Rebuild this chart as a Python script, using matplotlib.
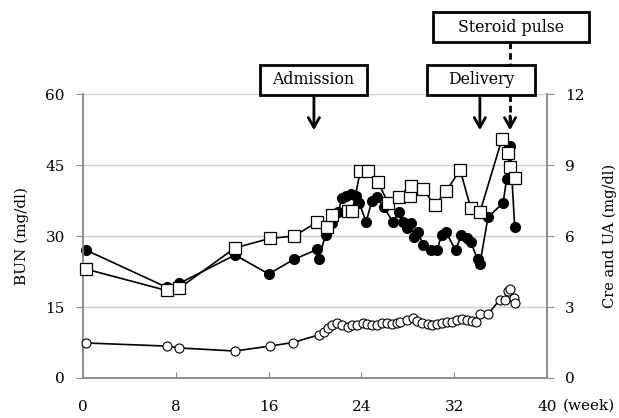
import matplotlib
matplotlib.use("Agg")
import matplotlib.pyplot as plt
from matplotlib.patches import Rectangle

# Serum values over gestational weeks
bun_week = [0.3, 7.2, 8.3, 13.1, 16.0, 18.2, 20.2, 20.3, 20.9, 21.5, 22.0, 22.3,
            22.7, 23.1, 23.5, 23.8, 24.4, 24.9, 25.3, 25.9, 26.7, 27.2, 27.6, 27.9,
            28.3, 28.5, 28.9, 29.3, 30.0, 30.5, 30.9, 31.3, 32.1, 32.6, 33.1, 33.4,
            34.0, 34.2, 34.9, 36.2, 36.5, 36.8, 37.2]
bun = [27.0, 19.2, 20.0, 26.0, 22.0, 25.1, 27.2, 25.2, 30.2, 32.7, 35.0, 38.0,
       38.5, 39.0, 38.5, 37.0, 33.0, 37.5, 38.2, 36.2, 33.0, 35.0, 33.0, 31.8,
       32.8, 29.8, 30.8, 28.1, 27.0, 27.0, 30.2, 30.8, 27.0, 30.2, 29.6, 28.8,
       25.1, 24.1, 34.0, 37.0, 42.0, 49.0, 32.0]

ua_week = [0.3, 7.2, 8.3, 13.1, 16.1, 18.2, 20.2, 21.0, 21.5, 22.8, 23.2, 23.9,
           24.6, 25.4, 26.3, 27.2, 28.2, 28.3, 29.3, 30.3, 31.3, 32.5, 33.4, 34.2,
           36.1, 36.6, 36.8, 37.2]
ua = [4.6, 3.7, 3.8, 5.5, 5.9, 6.0, 6.6, 6.4, 6.9, 7.05, 7.05, 8.75,
      8.75, 8.3, 7.4, 7.65, 7.7, 8.1, 8.0, 7.3, 7.9, 8.8, 7.2, 7.0,
      10.1, 9.5, 8.9, 8.45]

cre_week = [0.3, 7.2, 8.3, 13.1, 16.1, 18.1, 20.3, 20.8, 21.1, 21.5, 21.9, 22.3,
            22.8, 23.2, 23.6, 24.1, 24.5, 24.9, 25.3, 25.8, 26.2, 26.6, 27.1, 27.3,
            27.9, 28.4, 28.8, 29.2, 29.7, 30.1, 30.5, 30.9, 31.4, 31.8, 32.2, 32.7,
            33.1, 33.5, 33.9, 34.2, 34.9, 35.9, 36.4, 36.6, 36.8, 37.1, 37.2]
cre = [1.48, 1.35, 1.27, 1.14, 1.35, 1.50, 1.82, 1.94, 2.11, 2.24, 2.32, 2.24,
       2.15, 2.24, 2.24, 2.32, 2.28, 2.24, 2.24, 2.32, 2.32, 2.28, 2.32, 2.37,
       2.45, 2.53, 2.41, 2.32, 2.28, 2.24, 2.28, 2.32, 2.37, 2.37, 2.45, 2.49,
       2.45, 2.41, 2.37, 2.70, 2.70, 3.30, 3.30, 3.68, 3.76, 3.38, 3.17]

x_ticks = [0, 8, 16, 24, 32, 40]
left_ticks = [0, 15, 30, 45, 60]
right_ticks = [0, 3, 6, 9, 12]

# Event labels: (text, week of arrow)
events = [("Admission", 19.9), ("Delivery", 34.2), ("Steroid pulse", 36.8)]

plt.rcParams["font.family"] = ["DejaVu Serif"]

W, H = 619, 418
fig = plt.figure(figsize=(W / 100, H / 100), dpi=100)
ax = fig.add_axes([0.134, 0.0957, 0.750, 0.679])
ax2 = ax.twinx()

axis_grey = "#8c8c8c"
grid_grey = "#cfcfcf"

ax.set_xlim(0, 40)
ax.set_ylim(0, 60)
ax2.set_ylim(0, 12)
ax.set_xticks(x_ticks)
ax.set_yticks(left_ticks)
ax2.set_yticks(right_ticks)

ax.yaxis.grid(True, color=grid_grey, linewidth=1.0)
ax.set_axisbelow(True)

for a in (ax, ax2):
    a.spines["top"].set_visible(False)
    for s in ("left", "right", "bottom"):
        a.spines[s].set_color(axis_grey)
        a.spines[s].set_linewidth(1.2)

ax.tick_params(axis="x", direction="in", length=4, color=axis_grey,
               labelsize=11, pad=16)
ax.tick_params(axis="y", direction="out", length=5, color=axis_grey,
               labelsize=11, pad=8)
ax2.tick_params(axis="y", direction="out", length=5, color=axis_grey,
                labelsize=11, pad=8)

ax.set_ylabel("BUN (mg/dl)", fontsize=11, labelpad=12)
ax2.set_ylabel("Cre and UA (mg/dl)", fontsize=10.5, labelpad=13)

ax.annotate("(week)", xy=(40, 0), xycoords="data", xytext=(11, -15),
            textcoords="offset points", ha="left", va="top", fontsize=11)

# BUN: filled circles
ax.plot(bun_week, bun, color="black", linewidth=1.2, marker="o",
        markersize=7, markerfacecolor="black", markeredgecolor="black",
        zorder=3, clip_on=False)
# Uric acid: open squares
ax2.plot(ua_week, ua, color="black", linewidth=1.2, marker="s",
         markersize=8, markerfacecolor="white", markeredgecolor="black",
         markeredgewidth=0.9, zorder=3, clip_on=False)
# Creatinine: open circles
ax2.plot(cre_week, cre, color="black", linewidth=1.2, marker="o",
         markersize=6.5, markerfacecolor="white", markeredgecolor="black",
         markeredgewidth=0.8, zorder=3, clip_on=False)

# Event boxes in figure pixels: left, top, right, bottom
boxes = [(260, 65, 367, 95), (427, 65, 535, 95), (433, 12, 589, 42)]

arrow_solid = dict(arrowstyle="->,head_length=0.7,head_width=0.4",
                   color="black", lw=2, shrinkA=0, shrinkB=0)

tip_y = 52.4
for (label, wk), (x0, y0, x1, y1) in zip(events, boxes):
    fx0, fx1 = x0 / W, x1 / W
    fy_top, fy_bot = 1 - y0 / H, 1 - y1 / H
    rect = Rectangle((fx0, fy_bot), fx1 - fx0, fy_top - fy_bot,
                     transform=fig.transFigure, facecolor="white",
                     edgecolor="black", linewidth=2, zorder=6)
    fig.add_artist(rect)
    fig.text((fx0 + fx1) / 2, (fy_top + fy_bot) / 2, label, ha="center",
             va="center", fontsize=11.3, zorder=7)
    start = ax.transData.inverted().transform(
        fig.transFigure.transform((0, fy_bot)))[1]
    if label == "Steroid pulse":
        # dashed shaft with a solid head
        ax.plot([wk, wk], [start, tip_y + 1.5], color="black", lw=2,
                linestyle=(0, (2.4, 1.4)), clip_on=False, zorder=5)
        ax.annotate("", xy=(wk, tip_y), xytext=(wk, tip_y + 3.0),
                    arrowprops=arrow_solid, annotation_clip=False, zorder=5)
    else:
        ax.annotate("", xy=(wk, tip_y), xytext=(wk, start),
                    arrowprops=arrow_solid, annotation_clip=False, zorder=5)

fig.savefig("out.png", dpi=100)
